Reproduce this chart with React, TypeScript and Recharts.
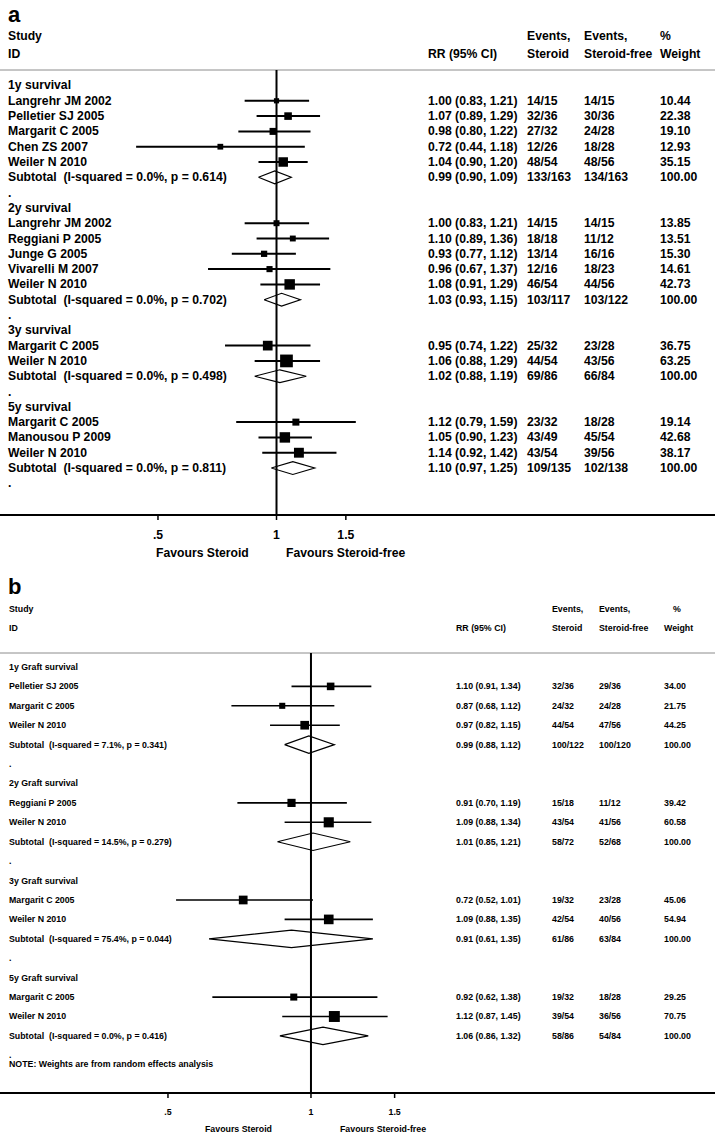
import React from 'react';
import { ScatterChart, Scatter, XAxis, YAxis, ReferenceLine, ErrorBar, Customized } from 'recharts';

const FONT = '"Liberation Sans", Arial, sans-serif';

// shared axis / header text
const xTicks = [0.5, 1, 1.5];
const xTickLabels = ['.5', '1', '1.5'];
const favourLabels = ['Favours Steroid', 'Favours Steroid-free'];
const subWeight = '100.00';

// panel a: patient survival
const aGroups = ['1y survival', '2y survival', '3y survival', '5y survival'];
const aStudy = [
  'Langrehr JM 2002', 'Pelletier SJ 2005', 'Margarit C 2005', 'Chen ZS 2007', 'Weiler N 2010',
  'Langrehr JM 2002', 'Reggiani P 2005', 'Junge G 2005', 'Vivarelli M 2007', 'Weiler N 2010',
  'Margarit C 2005', 'Weiler N 2010',
  'Margarit C 2005', 'Manousou P 2009', 'Weiler N 2010',
];
const aGroupOf = [0, 0, 0, 0, 0, 1, 1, 1, 1, 1, 2, 2, 3, 3, 3];
const aRR = [1.0, 1.07, 0.98, 0.72, 1.04, 1.0, 1.1, 0.93, 0.96, 1.08, 0.95, 1.06, 1.12, 1.05, 1.14];
const aLo = [0.83, 0.89, 0.8, 0.44, 0.9, 0.83, 0.89, 0.77, 0.67, 0.91, 0.74, 0.88, 0.79, 0.9, 0.92];
const aHi = [1.21, 1.29, 1.22, 1.18, 1.2, 1.21, 1.36, 1.12, 1.37, 1.29, 1.22, 1.29, 1.59, 1.23, 1.42];
const aEvS = ['14/15', '32/36', '27/32', '12/26', '48/54', '14/15', '18/18', '13/14', '12/16', '46/54', '25/32', '44/54', '23/32', '43/49', '43/54'];
const aEvF = ['14/15', '30/36', '24/28', '18/28', '48/56', '14/15', '11/12', '16/16', '18/23', '44/56', '23/28', '43/56', '18/28', '45/54', '39/56'];
const aWeight = [10.44, 22.38, 19.1, 12.93, 35.15, 13.85, 13.51, 15.3, 14.61, 42.73, 36.75, 63.25, 19.14, 42.68, 38.17];
const aSubHet = ['(I-squared = 0.0%, p = 0.614)', '(I-squared = 0.0%, p = 0.702)', '(I-squared = 0.0%, p = 0.498)', '(I-squared = 0.0%, p = 0.811)'];
const aSubRR = [0.99, 1.03, 1.02, 1.1];
const aSubLo = [0.9, 0.93, 0.88, 0.97];
const aSubHi = [1.09, 1.15, 1.19, 1.25];
const aSubEvS = ['133/163', '103/117', '69/86', '109/135'];
const aSubEvF = ['134/163', '103/122', '66/84', '102/138'];

// panel b: graft survival
const bGroups = ['1y Graft survival', '2y Graft survival', '3y Graft survival', '5y Graft survival'];
const bStudy = ['Pelletier SJ 2005', 'Margarit C 2005', 'Weiler N 2010', 'Reggiani P 2005', 'Weiler N 2010', 'Margarit C 2005', 'Weiler N 2010', 'Margarit C 2005', 'Weiler N 2010'];
const bGroupOf = [0, 0, 0, 1, 1, 2, 2, 3, 3];
const bRR = [1.1, 0.87, 0.97, 0.91, 1.09, 0.72, 1.09, 0.92, 1.12];
const bLo = [0.91, 0.68, 0.82, 0.7, 0.88, 0.52, 0.88, 0.62, 0.87];
const bHi = [1.34, 1.12, 1.15, 1.19, 1.34, 1.01, 1.35, 1.38, 1.45];
const bEvS = ['32/36', '24/32', '44/54', '15/18', '43/54', '19/32', '42/54', '19/32', '39/54'];
const bEvF = ['29/36', '24/28', '47/56', '11/12', '41/56', '23/28', '40/56', '18/28', '36/56'];
const bWeight = [34.0, 21.75, 44.25, 39.42, 60.58, 45.06, 54.94, 29.25, 70.75];
const bSubHet = ['(I-squared = 7.1%, p = 0.341)', '(I-squared = 14.5%, p = 0.279)', '(I-squared = 75.4%, p = 0.044)', '(I-squared = 0.0%, p = 0.416)'];
const bSubRR = [0.99, 1.01, 0.91, 1.06];
const bSubLo = [0.88, 0.85, 0.61, 0.86];
const bSubHi = [1.12, 1.21, 1.35, 1.32];
const bSubEvS = ['100/122', '58/72', '61/86', '58/86'];
const bSubEvF = ['100/120', '52/68', '63/84', '54/84'];
const bNote = 'NOTE: Weights are from random effects analysis';

type Row = { x: number; y: number; label: string; rr?: string; evS?: string; evF?: string; wt?: string };
type Pt = { x: number; y: number; err: [number, number]; w: number };
type Sub = { y: number; lo: number; est: number; hi: number };

const ci = (e: number, l: number, h: number) => `${e.toFixed(2)} (${l.toFixed(2)}, ${h.toFixed(2)})`;

function build(d: any) {
  const rows: Row[] = [];
  const pts: Pt[] = [];
  const subs: Sub[] = [];
  let r = 0;
  d.groups.forEach((g: string, gi: number) => {
    rows.push({ x: 1, y: r++, label: g });
    d.study.forEach((s: string, i: number) => {
      if (d.groupOf[i] !== gi) return;
      rows.push({ x: 1, y: r, label: s, rr: ci(d.rr[i], d.lo[i], d.hi[i]), evS: d.evS[i], evF: d.evF[i], wt: d.wt[i].toFixed(2) });
      pts.push({ x: d.rr[i], y: r, err: [d.rr[i] - d.lo[i], d.hi[i] - d.rr[i]], w: d.wt[i] });
      r++;
    });
    rows.push({
      x: 1, y: r, label: 'Subtotal  ' + d.subHet[gi],
      rr: ci(d.subRR[gi], d.subLo[gi], d.subHi[gi]), evS: d.subEvS[gi], evF: d.subEvF[gi], wt: subWeight,
    });
    subs.push({ y: r, lo: d.subLo[gi], est: d.subRR[gi], hi: d.subHi[gi] });
    r++;
    rows.push({ x: 1, y: r++, label: '.' });
  });
  if (d.note) rows.push({ x: 1, y: r - 1 + 0.45, label: d.note });
  return { rows, pts, subs };
}

const dataA = {
  groups: aGroups, study: aStudy, groupOf: aGroupOf, rr: aRR, lo: aLo, hi: aHi, evS: aEvS, evF: aEvF, wt: aWeight,
  subHet: aSubHet, subRR: aSubRR, subLo: aSubLo, subHi: aSubHi, subEvS: aSubEvS, subEvF: aSubEvF,
};
const dataB = {
  groups: bGroups, study: bStudy, groupOf: bGroupOf, rr: bRR, lo: bLo, hi: bHi, evS: bEvS, evF: bEvF, wt: bWeight,
  subHet: bSubHet, subRR: bSubRR, subLo: bSubLo, subHi: bSubHi, subEvS: bSubEvS, subEvF: bSubEvF, note: bNote,
};

// layout of each panel (pixels)
const layoutA = {
  letter: 'a', letterY: 14, height: 566, top: 70, bottom: 21,
  domainX: [0.1985, 12.99], domainY: [-1.013, 28.07],
  fs: 12.2, labelX: 8, rrX: 428, evSX: 527, evFX: 584, wtX: 660, pctX: 660,
  headY: [36, 54], favY: 553, favX: [156, 286], tickMargin: 10,
  boxK: 1.6, dh: 0.42, whisker: 2,
};
const layoutB = {
  letter: 'b', letterY: 20, height: 567, top: 87, bottom: 10,
  domainX: [0.2215, 7.088], domainY: [-0.72, 21.94],
  fs: 8.8, labelX: 9, rrX: 456, evSX: 552, evFX: 599, wtX: 664, pctX: 673,
  headY: [43, 62], favY: 563, favX: [205, 340], tickMargin: 11,
  boxK: 1.3, dh: 0.45, whisker: 1.6,
};

const noDot = () => <g />;

function ForestPanel({ p, d }: { p: any; d: any }) {
  const { rows, pts, subs } = build(d);
  const txt = { fontFamily: FONT, fontSize: p.fs, fontWeight: 'bold' as const, fill: '#000' };

  const rowShape = (props: any) => {
    const { cy, payload } = props;
    const r = payload as Row;
    return (
      <g {...txt} style={{ whiteSpace: 'pre' }}>
        <text x={p.labelX} y={cy} dominantBaseline="central" xmlSpace="preserve">{r.label}</text>
        {r.rr && <text x={p.rrX} y={cy} dominantBaseline="central">{r.rr}</text>}
        {r.evS && <text x={p.evSX} y={cy} dominantBaseline="central">{r.evS}</text>}
        {r.evF && <text x={p.evFX} y={cy} dominantBaseline="central">{r.evF}</text>}
        {r.wt && <text x={p.wtX} y={cy} dominantBaseline="central">{r.wt}</text>}
      </g>
    );
  };

  const boxShape = (props: any) => {
    const { cx, cy, payload } = props;
    const s = p.boxK * Math.sqrt(payload.w);
    return <rect x={cx - s / 2} y={cy - s / 2} width={s} height={s} fill="#000" />;
  };

  const diamond = (s: Sub) => [
    { x: s.lo, y: s.y },
    { x: s.est, y: s.y - p.dh },
    { x: s.hi, y: s.y },
    { x: s.est, y: s.y + p.dh },
    { x: s.lo, y: s.y },
  ];

  const Header = () => (
    <g {...txt}>
      <text x={8} y={p.letterY} fontSize={22} dominantBaseline="central">{p.letter}</text>
      <text x={p.labelX} y={p.headY[0]} dominantBaseline="central">Study</text>
      <text x={p.labelX} y={p.headY[1]} dominantBaseline="central">ID</text>
      <text x={p.rrX} y={p.headY[1]} dominantBaseline="central">RR (95% CI)</text>
      <text x={p.evSX} y={p.headY[0]} dominantBaseline="central">Events,</text>
      <text x={p.evSX} y={p.headY[1]} dominantBaseline="central">Steroid</text>
      <text x={p.evFX} y={p.headY[0]} dominantBaseline="central">Events,</text>
      <text x={p.evFX} y={p.headY[1]} dominantBaseline="central">Steroid-free</text>
      <text x={p.pctX} y={p.headY[0]} dominantBaseline="central">%</text>
      <text x={p.wtX} y={p.headY[1]} dominantBaseline="central">Weight</text>
      <text x={p.favX[0]} y={p.favY} dominantBaseline="central">{favourLabels[0]}</text>
      <text x={p.favX[1]} y={p.favY} dominantBaseline="central">{favourLabels[1]}</text>
    </g>
  );

  return (
    <ScatterChart width={721} height={p.height} margin={{ top: p.top, right: 6, bottom: p.bottom, left: 0 }}>
      <XAxis
        type="number"
        dataKey="x"
        scale="log"
        domain={p.domainX}
        allowDataOverflow
        ticks={xTicks}
        interval={0}
        tickFormatter={(v: number) => xTickLabels[xTicks.indexOf(v)]}
        axisLine={{ stroke: '#000', strokeWidth: 2 }}
        tickLine={{ stroke: '#000', strokeWidth: 1.5 }}
        tickSize={5}
        tickMargin={p.tickMargin}
        tick={{ fill: '#000', fontSize: p.fs, fontWeight: 'bold', fontFamily: FONT }}
        height={30}
      />
      <YAxis type="number" dataKey="y" domain={p.domainY} reversed hide allowDataOverflow width={0} />
      <ReferenceLine y={p.domainY[0]} stroke="#8c8c8c" strokeWidth={1} />
      <ReferenceLine x={1} stroke="#000" strokeWidth={2} />
      <Scatter data={rows} shape={rowShape} isAnimationActive={false} />
      <Scatter data={pts} shape={boxShape} fill="#000" isAnimationActive={false}>
        <ErrorBar dataKey="err" direction="x" width={0} stroke="#000" strokeWidth={p.whisker} />
      </Scatter>
      {subs.map((s, i) => (
        <Scatter
          key={i}
          data={diamond(s)}
          fill="#000"
          line={{ stroke: '#000', strokeWidth: 1.2 }}
          shape={noDot}
          isAnimationActive={false}
        />
      ))}
      <Customized component={Header} />
    </ScatterChart>
  );
}

export default function App() {
  return (
    <div style={{ position: 'absolute', left: 0, top: 0, width: 721, height: 1133, background: '#fff' }}>
      <ForestPanel p={layoutA} d={dataA} />
      <ForestPanel p={layoutB} d={dataB} />
    </div>
  );
}
